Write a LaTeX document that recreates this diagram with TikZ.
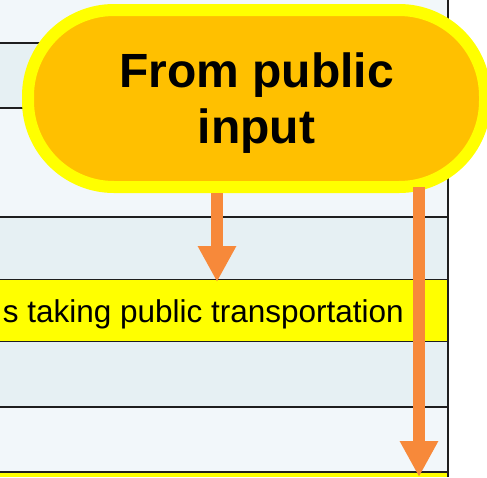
\documentclass[tikz,border=0pt]{standalone}
\usepackage{fontspec}
\setmainfont{Liberation Sans}
\usetikzlibrary{arrows.meta}
\definecolor{rowlight}{RGB}{242,247,250}
\definecolor{rowdark}{RGB}{230,240,243}
\definecolor{rowyellow}{RGB}{255,255,0}
\definecolor{ovalfill}{RGB}{255,192,0}
\definecolor{ovalrim}{RGB}{255,255,0}
\definecolor{flow}{RGB}{247,137,58}
\definecolor{gridline}{RGB}{30,30,30}

\begin{document}
\begin{tikzpicture}[x=1pt,y=-1pt,
  gridrule/.style={draw=gridline, line width=1.8pt},
  flowarrow/.style={draw=flow, line width=12pt, -{Triangle[width=36pt,length=36pt]}},
  oval/.style={rectangle, rounded corners=86pt, draw=ovalrim, line width=12pt,
    fill=ovalfill, align=center, text depth=0pt,
    font=\bfseries\fontsize{48}{56}\selectfont},
  celltext/.style={inner sep=0pt, font=\fontsize{31.5}{36}\selectfont}]
\clip (0,0) rectangle (487,477);
\fill[white] (0,0) rectangle (487,477);

% table rows
\fill[rowlight]  (0,0)     rectangle (447.7,43.3);
\fill[rowdark]   (0,43.3)  rectangle (447.7,108.3);
\fill[rowlight]  (0,108.3) rectangle (447.7,216.7);
\fill[rowdark]   (0,216.7) rectangle (447.7,279.5);
\fill[rowyellow] (0,279.5) rectangle (447.7,341.5);
\fill[rowdark]   (0,341.5) rectangle (447.7,407);
\fill[rowlight]  (0,407)   rectangle (447.7,472);
\fill[rowyellow] (0,472)   rectangle (447.7,477);

% row separators and right border
\foreach \yy in {43.3,108.3,216.7,279.5,341.5,407,472}
  \draw[gridrule] (0,\yy) -- (447.7,\yy);
\draw[gridrule] (447.7,0) -- (447.7,477);

% row text
\node[celltext, anchor=base east] (transit) at (404,322) {s taking public transportation};

% source terminal
\node[oval, minimum width=457pt, minimum height=177pt] (source) at (256.5,98.5)
  {From public\\input};

% flow arrows
\coordinate (tipA) at (217,282);
\coordinate (tipB) at (419,477);
\draw[flowarrow] (source.south -| tipA) -- (tipA);
\draw[flowarrow] ([yshift=6pt]source.south -| tipB) -- (tipB);
\end{tikzpicture}
\end{document}
